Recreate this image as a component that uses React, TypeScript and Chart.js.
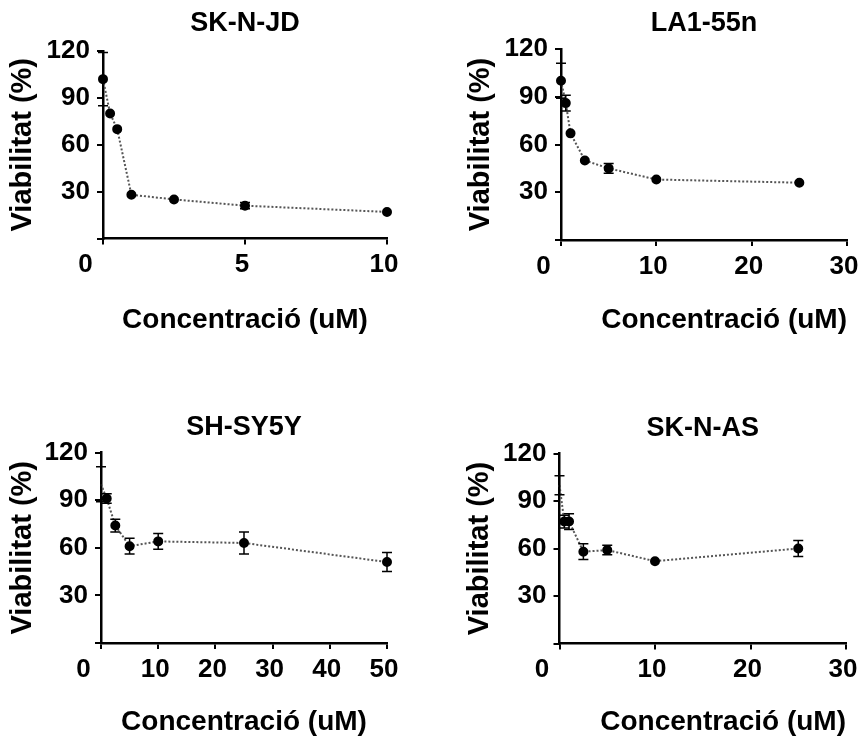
import React, { useEffect, useRef } from 'react';
import { Chart, registerables } from 'chart.js';

Chart.register(...registerables);

const panelTitles = ['SK-N-JD', 'LA1-55n', 'SH-SY5Y', 'SK-N-AS'];
const xAxisTitle = 'Concentració (uM)';
const yAxisTitle = 'Viabilitat (%)';

const concSKNJD = [0, 0.25, 0.5, 1, 2.5, 5, 10];
const viabSKNJD = [102, 80, 70, 28, 25, 21, 17];
const errSKNJD = [17, 0, 0, 0, 0, 2, 0];

const concLA155n = [0, 0.5, 1, 2.5, 5, 10, 25];
const viabLA155n = [100, 86, 67, 50, 45, 38, 36];
const errLA155n = [11, 5, 0, 0, 3, 0, 0];

const concSHSY5Y = [0, 1, 2.5, 5, 10, 25, 50];
const viabSHSY5Y = [100, 91, 74, 61, 64, 63, 51];
const errSHSY5Y = [11, 3, 4, 5, 5, 7, 6];

const concSKNAS = [0, 0.5, 1, 2.5, 5, 10, 25];
const viabSKNAS = [100, 77, 77, 58, 59, 52, 60];
const errSKNAS = [6, 4, 5, 5, 3, 0, 5];

const xMaxes = [10, 30, 50, 30];
const xSteps = [5, 10, 10, 10];
const yMax = 120;
const yStep = 30;

const FONT = '"Liberation Sans", Arial, sans-serif';

type Box = {
  cx: number; cy: number; cw: number; ch: number;
  l: number; r: number; t: number; b: number;
  titleY: number; xTitleY: number; yTitleX: number; xAlign: 'center' | 'end';
  hideZeroMarker: boolean;
};

const boxes: Box[] = [
  { cx: 0, cy: 0, cw: 430, ch: 345, l: 103, r: 387, t: 51, b: 238.5, titleY: 24, xTitleY: 320, yTitleX: 23, xAlign: 'center', hideZeroMarker: false },
  { cx: 430, cy: 0, cw: 440, ch: 345, l: 561, r: 847, t: 49, b: 240, titleY: 24, xTitleY: 320, yTitleX: 481, xAlign: 'end', hideZeroMarker: false },
  { cx: 0, cy: 395, cw: 430, ch: 346, l: 101, r: 387, t: 452.5, b: 643, titleY: 428, xTitleY: 722, yTitleX: 23, xAlign: 'center', hideZeroMarker: true },
  { cx: 430, cy: 395, cw: 440, ch: 346, l: 559.5, r: 846, t: 453.5, b: 643.5, titleY: 429, xTitleY: 722, yTitleX: 480, xAlign: 'end', hideZeroMarker: true },
];

const errorBarPlugin = {
  id: 'errorBars',
  afterDatasetsDraw(chart: any, _args: any, opts: any) {
    const errs: number[] = opts.errors || [];
    const xs: number[] = opts.xs || [];
    const ys: number[] = opts.ys || [];
    const xScale = chart.scales.x;
    const yScale = chart.scales.y;
    const ctx = chart.ctx;
    ctx.save();
    ctx.strokeStyle = '#000';
    ctx.lineWidth = 1.5;
    errs.forEach((e, i) => {
      if (!e) return;
      const px = xScale.getPixelForValue(xs[i]);
      const top = yScale.getPixelForValue(ys[i] + e);
      const bot = yScale.getPixelForValue(ys[i] - e);
      ctx.beginPath();
      ctx.moveTo(px, top);
      ctx.lineTo(px, bot);
      ctx.moveTo(px - 5, top);
      ctx.lineTo(px + 5, top);
      ctx.moveTo(px - 5, bot);
      ctx.lineTo(px + 5, bot);
      ctx.stroke();
    });
    ctx.restore();
  },
};

function Panel({ idx, conc, viab, err }: { idx: number; conc: number[]; viab: number[]; err: number[] }) {
  const ref = useRef<HTMLCanvasElement>(null);
  const box = boxes[idx];
  useEffect(() => {
    const c = ref.current!;
    const { cx, cy, cw, ch, l, r, t, b, titleY, xTitleY, yTitleX, xAlign, hideZeroMarker } = box;
    const titleFont = 27, tickFont = 26, axisFont = 28, yAxisFont = 29;
    const tlh = titleFont * 1.2, alh = axisFont * 1.2, ylh = yAxisFont * 1.2;
    const padTop = titleY - cy - tlh / 2;
    const padBottom = t - cy - padTop - tlh;
    const chart = new Chart(c, {
      type: 'scatter',
      data: {
        datasets: [{
          data: conc.map((x, i) => ({ x, y: viab[i] })),
          showLine: true,
          borderColor: '#555',
          borderWidth: 2,
          borderDash: [2, 2],
          pointRadius: (ctx: any) => (hideZeroMarker && ctx.dataIndex === 0 ? 0 : 4),
          pointBackgroundColor: '#000',
          pointBorderColor: '#000',
          clip: false,
        } as any],
      },
      options: {
        animation: false,
        responsive: false,
        devicePixelRatio: 1,
        layout: { padding: { left: 0, top: 0, bottom: 0, right: cx + cw - r } },
        plugins: {
          legend: { display: false },
          tooltip: { enabled: false },
          title: {
            display: true,
            text: panelTitles[idx],
            fullSize: false,
            color: '#000',
            font: { size: titleFont, weight: 'bold', family: FONT },
            padding: { top: padTop, bottom: padBottom },
          },
          errorBars: { errors: err, xs: conc, ys: viab },
        } as any,
        scales: {
          x: {
            type: 'linear',
            min: 0,
            max: xMaxes[idx],
            afterFit: (s: any) => { s.height = cy + ch - b; },
            ticks: {
              stepSize: xSteps[idx],
              autoSkip: false,
              maxRotation: 0,
              color: '#000',
              padding: 5,
              labelOffset: -3,
              font: { size: tickFont, weight: 'bold', family: FONT },
              callback: (v: any) => (v === 0 ? '0    ' : String(v)),
            },
            grid: { display: true, drawOnChartArea: false, drawTicks: true, tickLength: 6, color: '#000', lineWidth: 2 },
            border: { display: true, color: '#000', width: 2.5 },
            title: {
              display: true,
              text: xAxisTitle,
              align: xAlign,
              color: '#000',
              font: { size: axisFont, weight: 'bold', family: FONT },
              padding: { top: 0, bottom: cy + ch - xTitleY - alh / 2 },
            },
          },
          y: {
            type: 'linear',
            min: 0,
            max: yMax,
            afterFit: (s: any) => { s.width = l - cx; },
            ticks: {
              stepSize: yStep,
              color: '#000',
              padding: 7,
              font: { size: tickFont, weight: 'bold', family: FONT },
              callback: (v: any) => (v === 0 ? '' : String(v)),
            },
            grid: { display: true, drawOnChartArea: false, drawTicks: true, tickLength: 6, color: '#000', lineWidth: 2 },
            border: { display: true, color: '#000', width: 2.5 },
            title: {
              display: true,
              text: yAxisTitle,
              color: '#000',
              font: { size: yAxisFont, weight: 'bold', family: FONT },
              padding: { top: yTitleX - cx - ylh / 2, bottom: 0 },
            },
          },
        },
      } as any,
      plugins: [errorBarPlugin as any],
    });
    return () => chart.destroy();
  }, []);
  return (
    <canvas
      ref={ref}
      width={box.cw}
      height={box.ch}
      style={{ position: 'absolute', left: box.cx, top: box.cy, width: box.cw, height: box.ch }}
    />
  );
}

export default function App() {
  return (
    <div style={{ position: 'fixed', left: 0, top: 0, width: 861, height: 741, overflow: 'hidden', background: '#fff' }}>
      <Panel idx={0} conc={concSKNJD} viab={viabSKNJD} err={errSKNJD} />
      <Panel idx={1} conc={concLA155n} viab={viabLA155n} err={errLA155n} />
      <Panel idx={2} conc={concSHSY5Y} viab={viabSHSY5Y} err={errSHSY5Y} />
      <Panel idx={3} conc={concSKNAS} viab={viabSKNAS} err={errSKNAS} />
    </div>
  );
}
